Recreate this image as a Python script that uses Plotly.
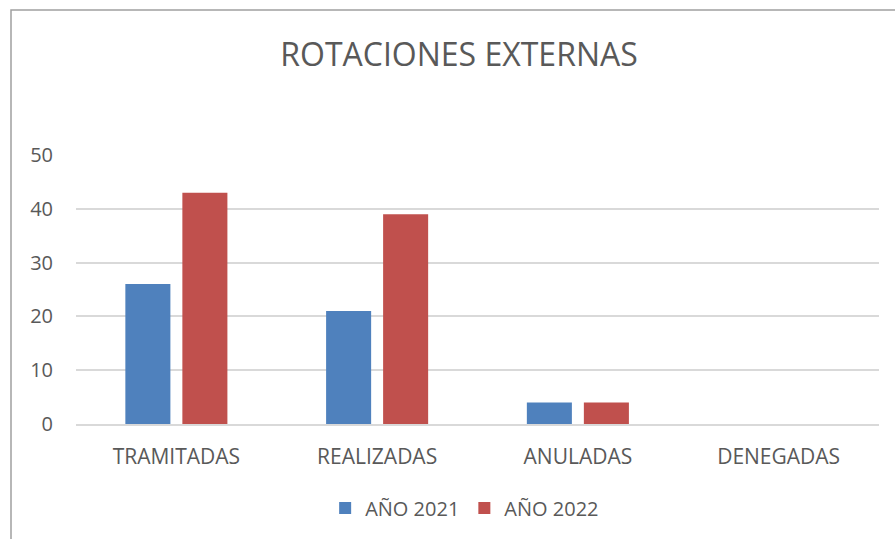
import plotly.graph_objects as go

categories = ["TRAMITADAS", "REALIZADAS", "ANULADAS", "DENEGADAS"]
values_2021 = [26, 21, 4, 0]
values_2022 = [43, 39, 4, 0]
series_names = ["AÑO 2021", "AÑO 2022"]
y_ticks = [0, 10, 20, 30, 40, 50]

fig = go.Figure()
fig.add_trace(go.Bar(x=categories, y=values_2021, name=series_names[0],
                     marker=dict(color="#4F81BD", line=dict(width=0))))
fig.add_trace(go.Bar(x=categories, y=values_2022, name=series_names[1],
                     marker=dict(color="#C0504D", line=dict(width=0))))

fig.update_layout(
    width=895, height=539,
    margin=dict(l=76, r=16, t=155, b=115),
    paper_bgcolor="white", plot_bgcolor="white",
    barmode="group", bargap=0.432, bargroupgap=0.21,
    font=dict(family="Open Sans", color="#595959", size=21),
    title=dict(text="ROTACIONES EXTERNAS", x=459 / 895, xanchor="center",
               y=1 - 55 / 539, yanchor="middle", yref="container",
               font=dict(size=32, color="#595959")),
    legend=dict(orientation="h", x=0.484, xanchor="center", y=-0.312, yanchor="middle",
                font=dict(size=20, color="#595959"), itemwidth=30, traceorder="normal"),
    showlegend=True,
)
fig.update_yaxes(range=[0, 50], tickvals=y_ticks, showgrid=True, gridcolor="#d9d9d9",
                 gridwidth=1.5, zeroline=False, showline=False, ticks="",
                 ticklabelstandoff=22, tickfont=dict(size=20, color="#595959"))
fig.update_xaxes(showline=True, linecolor="#d9d9d9", linewidth=1.5, ticks="",
                 tickfont=dict(size=21, color="#595959"), ticklabelstandoff=13)

fig.add_shape(type="rect", xref="paper", yref="paper",
              x0=(11 - 76) / 803, x1=1.2, y0=-0.6, y1=(424 - 10) / 269,
              line=dict(color="#a0a0a0", width=1.5), layer="below")

fig.write_html("out.html", config={"displayModeBar": False},
               post_script="document.body.style.margin='0';")
